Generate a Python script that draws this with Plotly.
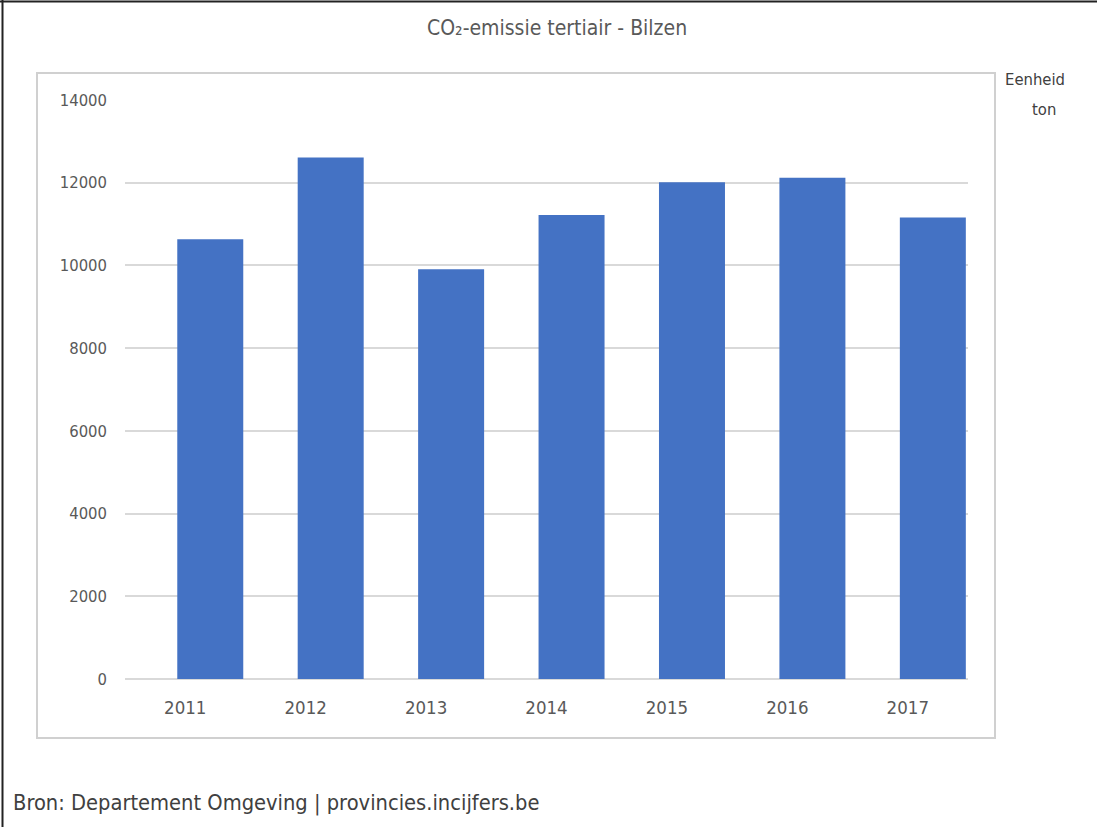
import plotly.graph_objects as go

years = ["2011", "2012", "2013", "2014", "2015", "2016", "2017"]
emissions = [10630, 12610, 9910, 11220, 12010, 12120, 11160]
y_ticks = [0, 2000, 4000, 6000, 8000, 10000, 12000, 14000]

title_text = "CO₂-emissie tertiair - Bilzen"
unit_label = "Eenheid"
unit_value = "ton"
source_text = "Bron: Departement Omgeving | provincies.incijfers.be"

W, H = 1097, 827
PL, PR, PT, PB = 125, 968, 100, 679

def px(x):
    return (x - PL) / (PR - PL)

def py(y):
    return (PB - y) / (PB - PT)

FONT = "Liberation Sans Narrow, DejaVu Sans Condensed, Arial Narrow, sans-serif"

fig = go.Figure(go.Bar(
    x=years, y=emissions,
    marker=dict(color="#4472C4", line=dict(width=0)),
    width=0.548, offset=-0.066,
    hoverinfo="x+y",
))

fig.update_layout(
    width=W, height=H,
    margin=dict(l=PL, r=W - PR, t=PT, b=H - PB, pad=0),
    paper_bgcolor="white", plot_bgcolor="white",
    showlegend=False,
    font=dict(family=FONT, color="#595959", size=16),
)

fig.update_yaxes(
    range=[0, 14000], tickvals=y_ticks, ticktext=[str(v) for v in y_ticks],
    showgrid=True, gridcolor="#d9d9d9", gridwidth=1.5,
    zeroline=True, zerolinecolor="#d9d9d9", zerolinewidth=1.5,
    showline=False, ticks="", ticklabelstandoff=17,
    tickfont=dict(size=16.5, color="#595959", family=FONT),
)
fig.update_xaxes(
    range=[-0.5, 6.5],
    showgrid=False, showline=False, ticks="", ticklabelstandoff=15,
    tickfont=dict(size=18.5, color="#595959", family=FONT),
)

shapes = [
    # inner chart frame
    dict(type="rect", xref="paper", yref="paper",
         x0=px(37), x1=px(995), y0=py(738), y1=py(73),
         line=dict(color="#d0d0d0", width=2), fillcolor="rgba(0,0,0,0)", layer="below"),
    # outer image border (top and left)
    dict(type="line", xref="paper", yref="paper",
         x0=px(0), x1=px(1097), y0=py(1.5), y1=py(1.5),
         line=dict(color="#222222", width=2)),
    dict(type="line", xref="paper", yref="paper",
         x0=px(2.5), x1=px(2.5), y0=py(827), y1=py(0),
         line=dict(color="#222222", width=2)),
]
fig.update_layout(shapes=shapes)

annotations = [
    dict(text=title_text, x=px(557), y=py(28), xref="paper", yref="paper",
         showarrow=False, xanchor="center", yanchor="middle",
         font=dict(size=21, color="#595959", family=FONT)),
    dict(text=unit_label, x=px(1035), y=py(79), xref="paper", yref="paper",
         showarrow=False, xanchor="center", yanchor="middle",
         font=dict(size=16.5, color="#404040", family=FONT)),
    dict(text=unit_value, x=px(1044), y=py(109), xref="paper", yref="paper",
         showarrow=False, xanchor="center", yanchor="middle",
         font=dict(size=16.5, color="#404040", family=FONT)),
    dict(text=source_text, x=px(11), y=py(803), xref="paper", yref="paper",
         showarrow=False, xanchor="left", yanchor="middle",
         font=dict(size=21.7, color="#404040", family=FONT)),
]
fig.update_layout(annotations=annotations)

fig.write_html("out.html", config={"displayModeBar": False},
               post_script="document.body.style.margin='0px';")
